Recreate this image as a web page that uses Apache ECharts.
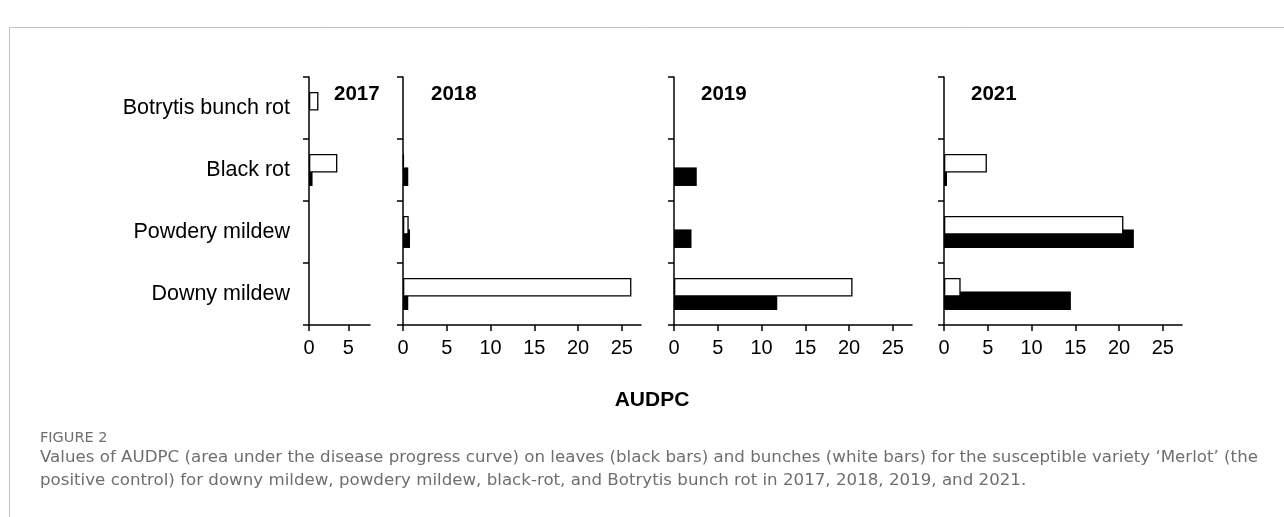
<!DOCTYPE html>
<html>
<head>
<meta charset="utf-8">
<script src="https://cdn.jsdelivr.net/npm/echarts@6/dist/echarts.min.js"></script>
<style>
html,body{margin:0;padding:0;background:#fff;}
#chart{width:1284px;height:517px;}
</style>
</head>
<body>
<div id="chart"></div>
<script>
// ---- data ----
const categories = ['Downy mildew', 'Powdery mildew', 'Black rot', 'Botrytis bunch rot'];
const years = ['2017', '2018', '2019', '2021'];
// leaves = black bars, bunches = white bars (order follows categories)
const leaves2017  = [null, null, 0.45, null];
const bunches2017 = [null, null, 3.6, 1.2];
const leaves2018  = [0.6, 0.8, 0.6, null];
const bunches2018 = [26.1, 0.65, 0.1, null];
const leaves2019  = [11.8, 2.0, 2.6, null];
const bunches2019 = [20.4, null, null, null];
const leaves2021  = [14.5, 21.7, 0.34, null];
const bunches2021 = [1.9, 20.5, 4.9, null];
const ticks2017 = [0, 5];
const ticksOther = [0, 5, 10, 15, 20, 25];
const xTitle = 'AUDPC';
const captionHead = 'FIGURE 2';
const captionLine1 = 'Values of AUDPC (area under the disease progress curve) on leaves (black bars) and bunches (white bars) for the susceptible variety \u2018Merlot\u2019 (the';
const captionLine2 = 'positive control) for downy mildew, powdery mildew, black-rot, and Botrytis bunch rot in 2017, 2018, 2019, and 2021.';

const leaves = [leaves2017, leaves2018, leaves2019, leaves2021];
const bunches = [bunches2017, bunches2018, bunches2019, bunches2021];
const tickSets = [ticks2017, ticksOther, ticksOther, ticksOther];

// ---- layout ----
const panels = [
  {left: 309, width: 61, max: 7.75, yearX: 334},
  {left: 403, width: 238, max: 27.2, yearX: 431},
  {left: 674, width: 238, max: 27.2, yearX: 701},
  {left: 944, width: 238, max: 27.2, yearX: 971}
];
const TOP = 77, HEIGHT = 248;
const FONT = '"Liberation Sans", Arial, Helvetica, sans-serif';
const CAPFONT = '"DejaVu Sans", "Open Sans", sans-serif';
const lineStyle = {color: '#000', width: 1.5};

const grid = [], xAxis = [], yAxis = [], series = [], graphic = [];
panels.forEach((p, i) => {
  grid.push({left: p.left, top: TOP, width: p.width, height: HEIGHT, containLabel: false});
  xAxis.push({
    type: 'value', gridIndex: i, min: 0, max: p.max, interval: 5,
    axisLine: {show: true, onZero: false, lineStyle: lineStyle},
    axisTick: {show: true, length: 6, lineStyle: lineStyle, customValues: tickSets[i]},
    axisLabel: {show: true, fontSize: 20, color: '#000', fontFamily: FONT, margin: 13, customValues: tickSets[i]},
    splitLine: {show: false}
  });
  yAxis.push({
    type: 'category', gridIndex: i, data: categories, boundaryGap: true,
    axisLine: {show: true, lineStyle: lineStyle},
    axisTick: {show: true, length: 6, lineStyle: lineStyle, alignWithLabel: false},
    axisLabel: {show: i === 0, fontSize: 21.5, color: '#000', fontFamily: FONT, margin: 19},
    splitLine: {show: false}
  });
  // white (bunches) bar sits above and is drawn over the black (leaves) bar
  series.push({
    type: 'bar', name: 'Bunches ' + years[i], xAxisIndex: i, yAxisIndex: i, z: 3,
    data: bunches[i], barCategoryGap: '48.5%', barGap: '-28%',
    itemStyle: {color: '#fff', borderColor: '#000', borderWidth: 1.3}
  });
  series.push({
    type: 'bar', name: 'Leaves ' + years[i], xAxisIndex: i, yAxisIndex: i, z: 2,
    data: leaves[i], barCategoryGap: '48.5%', barGap: '-28%',
    itemStyle: {color: '#000'}
  });
  graphic.push({
    type: 'text', left: p.yearX, top: 84,
    style: {text: years[i], font: 'bold 20.5px ' + FONT, fill: '#000'}
  });
});

graphic.push({type: 'text', x: 652, y: 400,
  style: {text: xTitle, font: 'bold 21px ' + FONT, fill: '#000', align: 'center', verticalAlign: 'middle'}});
// frame lines
graphic.push({type: 'line', shape: {x1: 9, y1: 27.5, x2: 1284, y2: 27.5}, style: {stroke: '#c4c4c4', lineWidth: 1}});
graphic.push({type: 'line', shape: {x1: 9.5, y1: 27, x2: 9.5, y2: 517}, style: {stroke: '#c4c4c4', lineWidth: 1}});
// caption
graphic.push({type: 'text', x: 40, y: 438,
  style: {text: captionHead, font: '14.5px ' + CAPFONT, fill: '#6e6e6e', verticalAlign: 'middle'}});
graphic.push({type: 'text', x: 40, y: 458,
  style: {text: captionLine1, font: '16.66px ' + CAPFONT, fill: '#6e6e6e', verticalAlign: 'middle'}});
graphic.push({type: 'text', x: 40, y: 481,
  style: {text: captionLine2, font: '16.66px ' + CAPFONT, fill: '#6e6e6e', verticalAlign: 'middle'}});

const chart = echarts.init(document.getElementById('chart'), null, {renderer: 'canvas'});
chart.setOption({
  animation: false,
  backgroundColor: '#fff',
  grid: grid, xAxis: xAxis, yAxis: yAxis, series: series, graphic: graphic
});
</script>
</body>
</html>
